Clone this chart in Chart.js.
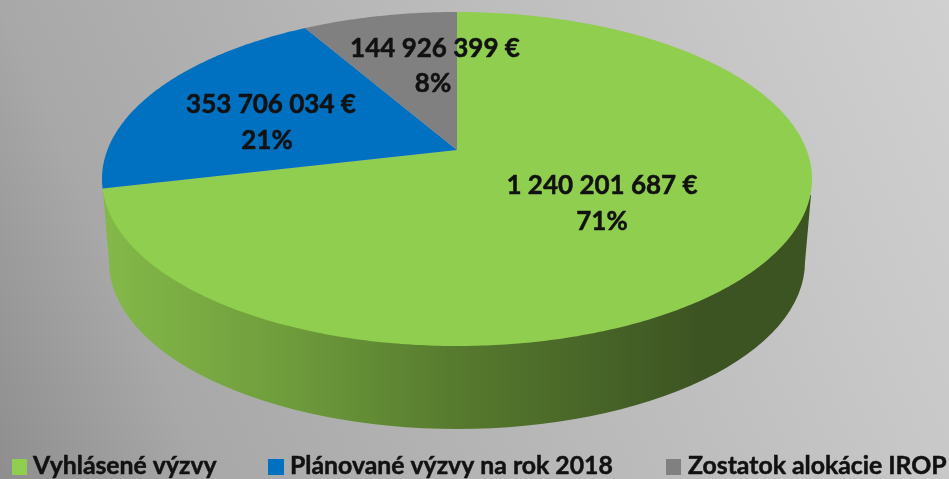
<!DOCTYPE html>
<html lang="sk"><head><meta charset="utf-8">
<script src="https://cdn.jsdelivr.net/npm/chart.js@4/dist/chart.umd.js"></script>
<style>html,body{margin:0;padding:0;background:#aaa;overflow:hidden}canvas{display:block;filter:blur(.4px)}</style>
</head><body><canvas id="c" width="949" height="479"></canvas>
<script>
const categories = ["Vyhlásené výzvy", "Plánované výzvy na rok 2018", "Zostatok alokácie IROP"];
const values = [1240201687, 353706034, 144926399];
const percents = ["71%", "21%", "8%"];
const colors = ["#90ce50", "#0070c0", "#808080"];

const TOP = {cx:457, cy:179, rx:355, ry:167, apexY:150};
const BOT = {cx:457, cy:262, rx:348, ry:167};
const LABEL_POS = [[602,186,602,222],[271,105,267,141],[435,49,433,84]];
const LEGEND_POS = [[12,33],[268,290],[666,688]];
const FONT = 'bold 26px Lato, "Open Sans", sans-serif';
const LEGEND_FONT = 'bold 24.8px Lato, "Open Sans", sans-serif';
const money = v => String(v).replace(/\B(?=(\d{3})+$)/g, " ") + " €";

function project(theta){
  const k = (TOP.cy - TOP.apexY) / TOP.ry;
  const A = TOP.rx * Math.sqrt(1 - k*k);
  const u = Math.sin(theta), v = Math.cos(theta), w = 1 + k*v;
  return [TOP.cx + A*u/w, TOP.cy + (-TOP.ry*v - (TOP.cy-TOP.apexY))/w];
}
class Arc3D extends Chart.ArcElement {
  static id = "arc3d";
  draw(ctx){
    const a = this.startAngle + Math.PI/2, b = this.endAngle + Math.PI/2;
    const n = Math.max(2, Math.ceil((b-a)*90));
    ctx.save();
    ctx.beginPath();
    ctx.moveTo(TOP.cx, TOP.apexY);
    for(let i=0;i<=n;i++){const p=project(a+(b-a)*i/n);ctx.lineTo(p[0],p[1]);}
    ctx.closePath();
    ctx.fillStyle = this.options.backgroundColor;
    ctx.fill();
    ctx.restore();
  }
}
class Pie3D extends Chart.PieController {
  static id = "pie3d";
  static defaults = {dataElementType:"arc3d"};
}
Chart.register(Arc3D, Pie3D);

function strokedText(ctx,t,x,y){
  ctx.lineWidth = .5; ctx.strokeStyle = ctx.fillStyle; ctx.lineJoin = "round";
  ctx.strokeText(t,x,y); ctx.fillText(t,x,y);
}
const scene = {
  id:"scene",
  beforeDraw(chart){
    const {ctx,width,height} = chart;
    const g = ctx.createLinearGradient(0,479,972,54);
    g.addColorStop(0,"#8e8e8e");
    g.addColorStop(0.18,"#a8a8a8");
    g.addColorStop(0.82,"#c8c8c8");
    g.addColorStop(1,"#d0d0d0");
    ctx.fillStyle = g; ctx.fillRect(0,0,width,height);
  },
  beforeDatasetsDraw(chart){
    const {ctx} = chart;
    const g = ctx.createLinearGradient(BOT.cx-BOT.rx,0,BOT.cx+BOT.rx,0);
    g.addColorStop(0,"#83b849");
    g.addColorStop(0.25,"#6f9d3c");
    g.addColorStop(0.5,"#567a2e");
    g.addColorStop(0.75,"#445f26");
    g.addColorStop(0.86,"#3c5322");
    g.addColorStop(1,"#3c5322");
    ctx.save();
    ctx.beginPath();
    ctx.moveTo(103,190);
    ctx.lineTo(BOT.cx-BOT.rx,BOT.cy);
    ctx.ellipse(BOT.cx,BOT.cy,BOT.rx,BOT.ry,0,Math.PI,0,true);
    ctx.lineTo(811,195);
    ctx.closePath();
    ctx.fillStyle = g; ctx.fill();
    ctx.restore();
  },
  afterDatasetsDraw(chart){
    const {ctx} = chart;
    ctx.save();
    ctx.fillStyle = "#111";
    ctx.textAlign = "center"; ctx.textBaseline = "middle";
    ctx.font = FONT;
    values.forEach((v,i)=>{
      const [x1,y1,x2,y2] = LABEL_POS[i];
      strokedText(ctx,money(v),x1,y1);
      strokedText(ctx,percents[i],x2,y2);
    });
    ctx.textAlign = "left";
    ctx.font = LEGEND_FONT;
    categories.forEach((c,i)=>{
      const [bx,tx] = LEGEND_POS[i];
      ctx.fillStyle = colors[i];
      ctx.fillRect(bx,459,i===1?16:15,16);
      ctx.fillStyle = "#111";
      strokedText(ctx,c,tx,466);
    });
    ctx.restore();
  }
};

new Chart(document.getElementById("c"),{
  type:"pie3d",
  data:{labels:categories,datasets:[{data:values,backgroundColor:colors,borderWidth:0}]},
  options:{responsive:false,animation:false,events:[],plugins:{legend:{display:false},tooltip:{enabled:false}}},
  plugins:[scene]
});
</script></body></html>
